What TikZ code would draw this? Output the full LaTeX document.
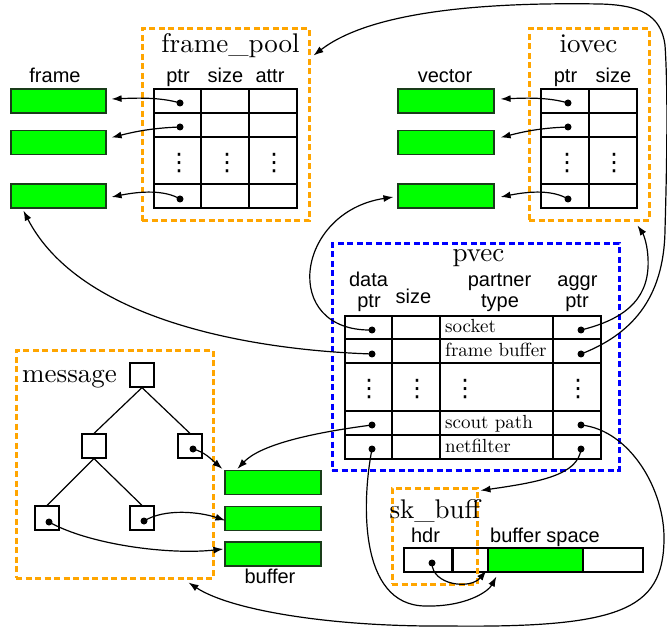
\documentclass[tikz,border=0pt]{standalone}
\usepackage{fontspec}
\usetikzlibrary{arrows.meta,calc}
\newfontfamily\labfont{Liberation Sans}
\newfontfamily\symfont{DejaVu Sans}
% the 10pt design of Latin Modern keeps its weight when set large
\newfontfamily\romfont[Extension=.otf]{lmroman10-regular}
\definecolor{poolorange}{RGB}{255,165,0}
\definecolor{pvecblue}{RGB}{0,0,255}
\definecolor{bufgreen}{RGB}{0,255,0}
\definecolor{bufedge}{RGB}{25,60,25}

\begin{document}
\begin{tikzpicture}[x=1pt,y=-1pt,
  lab/.style={font=\labfont\fontsize{20}{22}\selectfont, inner sep=0, anchor=base},
  ttl/.style={font=\romfont\fontsize{27}{30}\selectfont, inner sep=0, anchor=base},
  cell/.style={font=\romfont\fontsize{19}{21}\selectfont, inner sep=0, anchor=base west},
  vd/.style={font=\symfont\fontsize{24}{24}\selectfont, inner sep=0},
  ptrdot/.style={circle, fill=black, inner sep=0, minimum size=7},
  gbox/.style={draw=bufedge, fill=bufgreen, line width=1.2, minimum width=95, minimum height=24, inner sep=0},
  obox/.style={draw=poolorange, line width=3, dash pattern=on 6pt off 3.5pt, inner sep=0},
  bbox/.style={draw=pvecblue, line width=3, dash pattern=on 6pt off 3.5pt, inner sep=0},
  tbl/.style={draw=black, line width=1.2},
  sq/.style={draw=black, line width=1.2, minimum size=24, inner sep=0},
  conn/.style={line width=1.2, -{Latex[length=10,width=7]}}]
\useasboundingbox (0,0) rectangle (667,628);

% ---------- dashed group frames ----------
\node[obox, minimum width=167, minimum height=192] (fpbox) at (225.5,125) {};
\node[obox, minimum width=120, minimum height=192] (iobox) at (589,125) {};
\node[bbox, minimum width=287, minimum height=226] (pvbox) at (475.5,357) {};
\node[obox, minimum width=197, minimum height=227] (msgbox) at (114.5,464.5) {};

% ---------- frame_pool ----------
\node[ttl] (fptitle) at (230.5,53) {frame\_pool};
\node[lab] (fph1) at (178,83) {ptr};
\node[lab] (fph2) at (225.5,83) {size};
\node[lab] (fph3) at (270,83) {attr};
\draw[tbl] (154,89) rectangle (297,208);
\foreach \y in {113,137,184} \draw[tbl] (154,\y) -- (297,\y);
\foreach \x in {201,249} \draw[tbl] (\x,89) -- (\x,208);
\node[vd] (fpv1) at (179,163) {⋮};
\node[vd] (fpv2) at (227,163) {⋮};
\node[vd] (fpv3) at (274,163) {⋮};
\node[ptrdot] (fp1) at (180,103) {};
\node[ptrdot] (fp2) at (180,127) {};
\node[ptrdot] (fp4) at (180,199) {};

\node[lab] (framelab) at (55,83) {frame};
\node[gbox] (fr1) at (58.5,101) {};
\node[gbox] (fr2) at (58.5,142.5) {};
\node[gbox] (fr3) at (58.5,196) {};

% ---------- iovec ----------
\node[ttl] (iotitle) at (588.5,53) {iovec};
\node[lab] (ioh1) at (565.5,83) {ptr};
\node[lab] (ioh2) at (613.5,83) {size};
\draw[tbl] (541,89) rectangle (637,208);
\foreach \y in {113,137,184} \draw[tbl] (541,\y) -- (637,\y);
\draw[tbl] (589,89) -- (589,208);
\node[vd] (iov1) at (567,163) {⋮};
\node[vd] (iov2) at (614,163) {⋮};
\node[ptrdot] (io1) at (568,103) {};
\node[ptrdot] (io2) at (568,127) {};
\node[ptrdot] (io4) at (568,199) {};

\node[lab] (veclab) at (445,83) {vector};
\node[gbox, minimum width=96] (vc1) at (446,101) {};
\node[gbox, minimum width=96] (vc2) at (446,142.5) {};
\node[gbox, minimum width=96] (vc3) at (446,196) {};

% ---------- pvec ----------
\node[ttl] (pvtitle) at (478.5,262) {pvec};
\node[lab] (pvh1a) at (368.5,287) {data};
\node[lab] (pvh1b) at (369,308) {ptr};
\node[lab] (pvh2) at (413.5,304) {size};
\node[lab] (pvh3a) at (499.5,287) {partner};
\node[lab] (pvh3b) at (500,308) {type};
\node[lab] (pvh4a) at (577.5,287) {aggr};
\node[lab] (pvh4b) at (577,308) {ptr};
\draw[tbl] (345,316) rectangle (601,459);
\foreach \y in {339,363,411,435} \draw[tbl] (345,\y) -- (601,\y);
\foreach \x in {392,440,553} \draw[tbl] (\x,316) -- (\x,459);
\node[cell] (t1) at (445,333) {socket};
\node[cell] (t2) at (445,356.5) {frame buffer};
\node[cell] (t4) at (445,428.5) {scout path};
\node[cell] (t5) at (445,452.5) {netfilter};
\node[vd] (pvv1) at (369,389) {⋮};
\node[vd] (pvv2) at (417,389) {⋮};
\node[vd] (pvv3) at (465,389) {⋮};
\node[vd] (pvv4) at (578,389) {⋮};
\node[ptrdot] (pd1) at (372,330) {};
\node[ptrdot] (pd2) at (372,354) {};
\node[ptrdot] (pd4) at (372,425) {};
\node[ptrdot] (pd5) at (372,449) {};
\node[ptrdot] (pa1) at (581,330) {};
\node[ptrdot] (pa2) at (581,354) {};
\node[ptrdot] (pa4) at (581,425) {};
\node[ptrdot] (pa5) at (581,449) {};

% ---------- message tree ----------
\node[ttl, anchor=base west] (msgtitle) at (22,382) {message};
\node[sq] (root) at (142,375) {};
\node[sq] (ml) at (94,446) {};
\node[sq] (mr) at (190,446) {};
\node[sq] (bl) at (47,518) {};
\node[sq] (br) at (142,518) {};
\draw[tbl] (root.south) -- (ml.north);
\draw[tbl] (root.south) -- (mr.north);
\draw[tbl] (ml.south) -- (bl.north);
\draw[tbl] (ml.south) -- (br.north);
\node[ptrdot] (mrd) at (193,449) {};
\node[ptrdot] (brd) at (144,521) {};
\node[ptrdot] (bld) at (49,522) {};

\node[gbox, minimum width=96] (bf1) at (273,482.5) {};
\node[gbox, minimum width=96] (bf2) at (273,518.5) {};
\node[gbox, minimum width=96] (bf3) at (273,554) {};
\node[lab] (buflab) at (270,583) {buffer};

% ---------- sk_buff ----------
\draw[tbl] (404,548) rectangle (643,572);
\node[gbox, draw=black] (skg) at (535.5,560) {};
\draw[line width=3] (452,548) -- (452,572);
\node[ptrdot] (hd) at (432,563) {};
\node[obox, minimum width=85, minimum height=96] (skbox) at (434.5,536) {};
\node[ttl] (sktitle) at (435,518) {sk\_buff};
\node[lab] (hdrlab) at (425.5,542) {hdr};
\node[lab] (bslab) at (545,542) {buffer space};

% ---------- pointers ----------
\draw[conn] (fp1.center) .. controls +(-20,-6) and +(24,-1) .. ($(fr1.east)+(5,-2)$);
\draw[conn] (fp2.center) .. controls +(-30,1) and +(20,-5) .. ($(fr2.east)+(5,-5)$);
\draw[conn] (fp4.center) .. controls +(-15,-9) and +(30,-6) .. ($(fr3.east)+(5,1)$);
\draw[conn] (io1.center) .. controls +(-20,-6) and +(24,-1) .. ($(vc1.east)+(6,-2)$);
\draw[conn] (io2.center) .. controls +(-30,1) and +(20,-5) .. ($(vc2.east)+(6,-5)$);
\draw[conn] (io4.center) .. controls +(-15,-9) and +(30,-6) .. ($(vc3.east)+(6,1)$);

\draw[conn] (pd1.center) .. controls (280,332) and (295,212) .. ($(vc3.west)+(-4,1)$);
\draw[conn] (pd2.center) .. controls (250,350) and (80,320) .. ($(fr3.south west)+(13,2)$);
\draw[conn] (pd4.center) .. controls (310,433) and (260,445) .. ($(bf1.north west)+(13,-1)$);
\draw[conn] (pd5.center) .. controls (362,500) and (358,605) .. (425,606)
  .. controls (465,607) and (488,592) .. ($(skg.south west)+(9,4)$);

\draw[conn] (pa1.center) .. controls (630,318) and (650,295) .. (648,258)
  .. controls (647,240) and (642,232) .. ($(iobox.south east)+(-13,3)$);
\draw[conn] (pa2.center) .. controls (630,335) and (664,300) .. (665,230)
  .. controls (667,160) and (668,90) .. (665,45)
  .. controls (661,15) and (640,5) .. (600,4)
  .. controls (480,2) and (370,12) .. ($(fpbox.north east)+(3,28)$);
\draw[conn] (pa4.center) .. controls (630,430) and (665,490) .. (664,540)
  .. controls (663,610) and (620,628) .. (447,626)
  .. controls (330,627) and (230,610) .. ($(msgbox.south east)+(-26,3)$);
\draw[conn] (pa5.center) .. controls (578,475) and (540,482) .. ($(skbox.north east)+(2,4)$);

\draw[conn] (hd.center) .. controls (432,585) and (470,590) .. ($(skg.south west)+(-1,-2)$);

\draw[conn] (mrd.center) .. controls (205,452) and (212,460) .. ($(bf1.north west)+(-2,-1)$);
\draw[conn] (brd.center) .. controls (165,508) and (200,512) .. ($(bf2.west)+(1,2)$);
\draw[conn] (bld.center) .. controls (90,545) and (170,555) .. ($(bf3.west)+(-1,-5)$);
\end{tikzpicture}
\end{document}
